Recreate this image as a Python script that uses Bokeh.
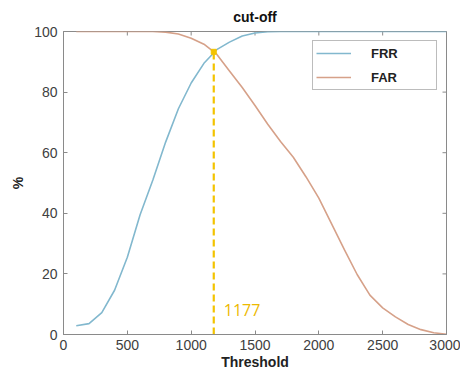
import math
from bokeh.plotting import figure
from bokeh.models import Range1d, Legend, LegendItem, Label, FixedTicker
from bokeh.embed import file_html
from bokeh.resources import INLINE

threshold = [100, 200, 300, 400, 500, 600, 700, 800, 900, 1000,
             1100, 1200, 1300, 1400, 1500, 1600, 1700, 1800, 1900, 2000,
             2100, 2200, 2300, 2400, 2500, 2600, 2700, 2800, 2900, 3000]
frr = [2.9, 3.6, 7.2, 14.6, 25.5, 39.5, 51.0, 63.5, 74.5, 83.0,
       89.5, 94.0, 96.5, 98.5, 99.5, 99.9, 100, 100, 100, 100,
       100, 100, 100, 100, 100, 100, 100, 100, 100, 100]
far = [100, 100, 100, 100, 100, 100, 100, 99.8, 99.2, 97.8,
       95.8, 92.5, 87.0, 81.5, 75.6, 69.4, 63.7, 58.5, 52.0, 45.0,
       36.5, 28.0, 19.8, 13.0, 8.8, 5.8, 3.3, 1.6, 0.6, 0.1]
cutoff_x = 1177
cutoff_y = 93.3
x_ticks = [0, 500, 1000, 1500, 2000, 2500, 3000]
y_ticks = [0, 20, 40, 60, 80, 100]
x_min, x_max = 0, 3000
y_min, y_max = 0, 100

FONT = "Liberation Sans"
AXIS_GRAY = "#8a8a8a"
LABEL_GRAY = "#404040"
GOLD = "#F3C300"

p = figure(width=460, height=374, output_backend="svg", toolbar_location=None,
           x_range=Range1d(x_min, x_max), y_range=Range1d(y_min, y_max),
           min_border_left=63, min_border_right=14, min_border_top=31, min_border_bottom=40,
           title="cut-off")
p.title.align = "center"
p.title.text_font = FONT
p.title.text_font_size = "14px"
p.title.text_font_style = "bold"
p.title.text_color = "#111111"
p.title.standoff = 13
p.title.offset = 0

p.grid.visible = False
p.outline_line_color = AXIS_GRAY
p.outline_line_width = 1

for ax in (p.xaxis[0], p.yaxis[0]):
    ax.axis_line_color = AXIS_GRAY
    ax.major_tick_line_color = AXIS_GRAY
    ax.major_tick_in = 4
    ax.major_tick_out = 0
    ax.minor_tick_line_color = None
    ax.major_label_text_font = FONT
    ax.major_label_text_font_size = "14px"
    ax.major_label_text_color = LABEL_GRAY
    ax.axis_label_text_font = FONT
    ax.axis_label_text_font_size = "14px"
    ax.axis_label_text_font_style = "bold"
    ax.axis_label_text_color = "#222222"

p.xaxis[0].ticker = FixedTicker(ticks=x_ticks)
p.yaxis[0].ticker = FixedTicker(ticks=y_ticks)
p.xaxis[0].axis_label = "Threshold"
p.yaxis[0].axis_label = "%"
p.xaxis[0].major_label_standoff = 5
p.xaxis[0].axis_label_standoff = 1
p.yaxis[0].major_label_standoff = 6
p.yaxis[0].axis_label_standoff = 5

# box ticks on top and right edges (MATLAB "box on")
p.scatter(x_ticks, [y_max] * len(x_ticks), marker="dash", angle=math.pi / 2, size=8,
          line_color=AXIS_GRAY, line_width=1)
p.scatter([x_max] * len(y_ticks), y_ticks, marker="dash", size=8,
          line_color=AXIS_GRAY, line_width=1)

r_frr = p.line(threshold, frr, line_color="#82B8CE", line_width=1.6)
r_far = p.line(threshold, far, line_color="#D6A189", line_width=1.6)

p.segment(x0=[cutoff_x], y0=[y_min], x1=[cutoff_x], y1=[cutoff_y],
          line_color=GOLD, line_width=2.2, line_dash="7 4")
p.scatter([cutoff_x], [cutoff_y], marker="square", size=5, color=GOLD)

lbl = Label(x=cutoff_x, y=y_min, x_offset=10, y_offset=19, text=str(cutoff_x), text_color="#EDB900",
            text_font="Open Sans", text_font_size="16px", text_baseline="bottom")
p.add_layout(lbl)

legend = Legend(items=[LegendItem(label="FRR", renderers=[r_frr]),
                       LegendItem(label="FAR", renderers=[r_far])],
                location="top_right", margin=9, padding=3, spacing=6,
                glyph_width=35, glyph_height=18, label_standoff=20, label_width=62,
                label_height=18,
                label_text_font=FONT, label_text_font_size="13px",
                label_text_font_style="bold", label_text_color="#222222",
                border_line_color="#7a7a7a", border_line_width=1,
                background_fill_color="white", background_fill_alpha=1)
p.add_layout(legend)

open("out.html", "w").write(file_html(p, INLINE))
